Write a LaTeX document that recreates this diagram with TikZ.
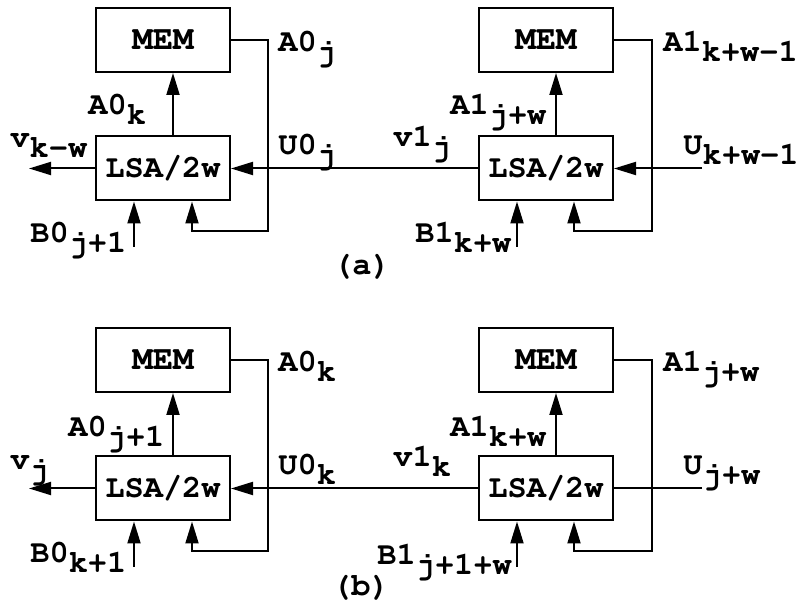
\documentclass[tikz,border=0pt]{standalone}
\usepackage[T1]{fontenc}
\usetikzlibrary{arrows.meta,positioning}
\newcommand\lbl{\fontfamily{pcr}\bfseries\fontsize{16}{18}\selectfont}
\newcommand\dn[1]{\raisebox{-5pt}{#1}}
\tikzset{
  box/.style={draw, line width=1pt, minimum width=67pt, minimum height=32pt, inner sep=0pt, font=\lbl},
  lab/.style={anchor=base west, inner sep=0pt, font=\lbl},
  sig/.style={line width=1pt, -{Triangle[length=11pt,width=6.5pt]}},
  wire/.style={line width=1pt}
}

\begin{document}
\begin{tikzpicture}[x=0.5pt,y=-0.5pt]
  \useasboundingbox (0,0) rectangle (799,603);

  % (a)
  \node[box] (memL) at (163,40) {\fontsize{17}{18}\selectfont MEM};
  \node[box] (lsaL) at (163,168.5) {LSA/2w};
  \node[box] (memR) at (546,40) {\fontsize{17}{18}\selectfont MEM};
  \node[box] (lsaR) at (546,168.5) {LSA/2w};
  \coordinate (fbL) at (268,231);
  \coordinate (fbR) at (652,231);
  \coordinate (bL) at (134,247);
  \coordinate (bR) at (517,247);
  \coordinate (vL) at (29,168.5);
  \coordinate (uR) at (702,168.5);
  \draw[sig] ([xshift=5pt]lsaL.north) -- ([xshift=5pt]memL.south);
  \draw[sig] ([xshift=5pt]lsaR.north) -- ([xshift=5pt]memR.south);
  \draw[sig] (memL.east) -| (fbL) -| ([xshift=14.5pt]lsaL.south);
  \draw[sig] (memR.east) -| (fbR) -| ([xshift=14pt]lsaR.south);
  \draw[sig] (bL) -- (bL |- lsaL.south);
  \draw[sig] (bR) -- (bR |- lsaR.south);
  \draw[sig] (lsaL.west) -- (vL);
  \draw[sig] (lsaR.west) -- (lsaL.east);
  \draw[sig] (uR) -- (lsaR.east);
  \node[lab] (a1) at (10,148) {v\dn{k-w}};
  \node[lab] (a2) at (88,115) {A0\dn{k}};
  \node[lab] (a3) at (278,52) {A0\dn{j}};
  \node[lab] (a4) at (278,155) {U0\dn{j}};
  \node[lab] (a5) at (30,243) {B0\dn{j+1}};
  \node[lab] (a6) at (393,147) {v1\dn{j}};
  \node[lab] (a7) at (450,115) {A1\dn{j+w}};
  \node[lab] (a8) at (663,52) {A1\dn{k+w-1}};
  \node[lab] (a9) at (683,155) {U\dn{k+w-1}};
  \node[lab] (a10) at (415,243) {B1\dn{k+w}};
  \node[font=\lbl] (capa) at (362,266) {(a)};

  % (b)
  \begin{scope}[yshift=-160pt]
  \node[box] (memL2) at (163,40) {\fontsize{17}{18}\selectfont MEM};
  \node[box] (lsaL2) at (163,168.5) {LSA/2w};
  \node[box] (memR2) at (546,40) {\fontsize{17}{18}\selectfont MEM};
  \node[box] (lsaR2) at (546,168.5) {LSA/2w};
  \coordinate (fbL2) at (268,231);
  \coordinate (fbR2) at (652,231);
  \coordinate (bL2) at (134,247);
  \coordinate (bR2) at (517,247);
  \coordinate (vL2) at (29,168.5);
  \coordinate (uR2) at (702,168.5);
  \draw[sig] ([xshift=5pt]lsaL2.north) -- ([xshift=5pt]memL2.south);
  \draw[sig] ([xshift=5pt]lsaR2.north) -- ([xshift=5pt]memR2.south);
  \draw[sig] (memL2.east) -| (fbL2) -| ([xshift=14.5pt]lsaL2.south);
  \draw[sig] (memR2.east) -| (fbR2) -| ([xshift=14pt]lsaR2.south);
  \draw[sig] (bL2) -- (bL2 |- lsaL2.south);
  \draw[sig] (bR2) -- (bR2 |- lsaR2.south);
  \draw[sig] (lsaL2.west) -- (vL2);
  \draw[sig] (lsaR2.west) -- (lsaL2.east);
  \draw[wire] (uR2) -- (lsaR2.east);
  \node[lab] (b1) at (10,150) {v\dn{j}};
  \node[lab] (b2) at (68,117) {A0\dn{j+1}};
  \node[lab] (b3) at (278,52) {A0\dn{k}};
  \node[lab] (b4) at (278,155) {U0\dn{k}};
  \node[lab] (b5) at (30,243) {B0\dn{k+1}};
  \node[lab] (b6) at (393,147) {v1\dn{k}};
  \node[lab] (b7) at (450,117) {A1\dn{k+w}};
  \node[lab] (b8) at (663,52) {A1\dn{j+w}};
  \node[lab] (b9) at (683,155) {U\dn{j+w}};
  \node[lab] (b10) at (377,245) {B1\dn{j+1+w}};
  \node[font=\lbl] (capb) at (361,267) {(b)};
  \end{scope}
\end{tikzpicture}
\end{document}
